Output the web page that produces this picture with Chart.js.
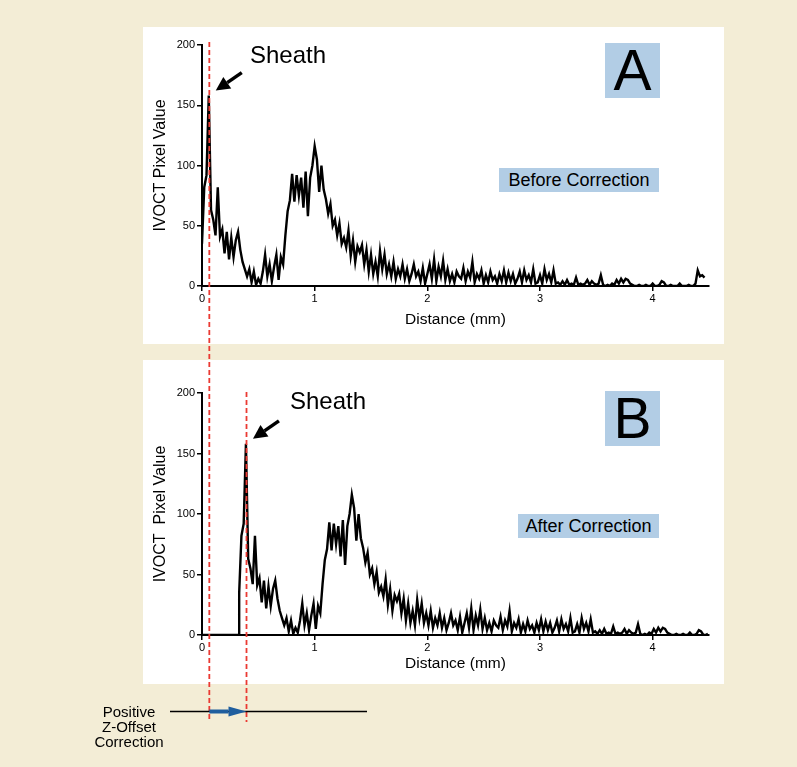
<!DOCTYPE html>
<html>
<head>
<meta charset="utf-8">
<script src="https://cdn.jsdelivr.net/npm/chart.js@4.4.0/dist/chart.umd.min.js"></script>
<style>
  html, body { margin: 0; padding: 0; }
  body {
    width: 797px; height: 767px; position: relative; overflow: hidden;
    background: #F3EDD6; font-family: "Liberation Sans", Arial, sans-serif; color: #000;
  }
  .panel { position: absolute; left: 143px; width: 581px; background: #fff; }
  #panelA { top: 27px; height: 317px; }
  #panelB { top: 360px; height: 324px; }
  .panel canvas { position: absolute; left: 0; top: 0; }
  #overlay { position: absolute; left: 0; top: 0; z-index: 5; pointer-events: none; }
  .lbl { position: absolute; z-index: 6; white-space: nowrap; }
  .box { background: #B2CDE5; text-align: center; }
  .letter { width: 55px; height: 55px; line-height: 55px; font-size: 57px; left: 605px; }
  .state { height: 24px; line-height: 24px; font-size: 18px; }
  .sheath { font-size: 24px; line-height: 28px; }
  #zlabel { left: 79px; top: 704px; width: 100px; text-align: center; font-size: 15px; line-height: 15px; }
</style>
</head>
<body>
<div class="panel" id="panelA"><canvas id="chartA" width="581" height="317"></canvas></div>
<div class="panel" id="panelB"><canvas id="chartB" width="581" height="324"></canvas></div>
<canvas id="overlay" width="797" height="767"></canvas>

<div class="lbl sheath" style="left:250px; top:41px;">Sheath</div>
<div class="lbl sheath" style="left:290px; top:387px;">Sheath</div>
<div class="lbl box letter" style="top:43px;">A</div>
<div class="lbl box letter" style="top:391px;">B</div>
<div class="lbl box state" style="left:499px; top:168px; width:160px;">Before Correction</div>
<div class="lbl box state" style="left:518px; top:514px; width:141px;">After Correction</div>
<div class="lbl" id="zlabel">Positive<br>Z-Offset<br>Correction</div>

<script>
// sampling grid (mm) and pixel values
const step = 0.02;
const pixelValues = [
  35, 82, 92, 158, 63, 55, 42, 82, 41, 47,
  27, 45, 22, 40, 24, 38, 45, 30, 20, 14,
  8, 14, 3, 12, 1, 6, 2, 12, 26, 8,
  18, 4, 16, 26, 5, 24, 18, 42, 62, 71,
  93, 70, 92, 75, 90, 65, 95, 58, 90, 100,
  116, 105, 78, 100, 80, 72, 60, 68, 50, 55,
  42, 52, 35, 40, 32, 46, 25, 38, 20, 33,
  28, 34, 18, 30, 12, 26, 10, 20, 8, 29,
  14, 26, 10, 18, 8, 20, 6, 14, 8, 18,
  6, 14, 4, 10, 18, 8, 12, 4, 15, 2,
  10, 18, 6, 22, 4, 16, 8, 21, 5, 14,
  4, 10, 3, 12, 8, 6, 15, 4, 12, 7,
  20, 3, 10, 6, 13, 2, 9, 3, 12, 5,
  8, 2, 10, 4, 13, 3, 11, 4, 10, 2,
  6, 12, 3, 13, 5, 9, 3, 14, 2, 3,
  9, 2, 14, 5, 10, 3, 13, 2, 3, 1,
  4, 1, 5, 1, 2, 1, 7, 1, 2, 1,
  2, 5, 1, 4, 2, 1, 2, 9, 1, 0,
  1, 0, 2, 1, 5, 2, 6, 3, 6, 5,
  2, 1, 0, 0, 1, 0, 0, 1, 0, 0,
  2, 0, 0, 1, 4, 3, 0, 0, 1, 0,
  0, 0, 2, 0, 0, 0, 1, 0, 0, 2,
  13, 8, 9, 7
];
const zOffset = 0.33;          // positive Z-offset correction (mm)
const sheathBefore = 0.065;    // sheath position before correction (mm)
const xTicks = [0, 1, 2, 3, 4];
const yTicks = [0, 50, 100, 150, 200];
const xMax = 4.5;
const yMax = 200;

const pointsA = pixelValues.map((v, i) => ({ x: +(i * step).toFixed(2), y: v }));
const pointsB = [{ x: 0, y: 0 }, { x: zOffset, y: 0 }]
  .concat(pointsA.map(p => ({ x: +(p.x + zOffset).toFixed(2), y: p.y })).filter(p => p.x <= xMax));

const FONT = '"Liberation Sans", Arial, sans-serif';

function makeChart(id, points, yTitle, padTop, xHeight, xTitlePad) {
  return new Chart(document.getElementById(id), {
    type: 'line',
    data: {
      datasets: [{
        data: points,
        borderColor: '#000',
        borderWidth: 2.4,
        pointRadius: 0,
        tension: 0,
        fill: false
      }]
    },
    options: {
      responsive: false,
      animation: false,
      layout: { padding: { top: padTop, right: 15, left: 0, bottom: 0 } },
      plugins: { legend: { display: false }, tooltip: { enabled: false } },
      scales: {
        x: {
          type: 'linear', min: 0, max: xMax,
          afterBuildTicks: s => { s.ticks = xTicks.map(v => ({ value: v })); },
          afterFit: s => { s.height = xHeight; },
          ticks: { color: '#000', font: { size: 11, family: FONT }, padding: 1, maxRotation: 0 },
          grid: { drawOnChartArea: false, drawTicks: true, tickLength: 5, color: '#000', lineWidth: 1.5 },
          border: { color: '#000', width: 2 },
          title: { display: true, text: 'Distance (mm)', color: '#000',
                   font: { size: 15.5, family: FONT }, padding: { bottom: xTitlePad } }
        },
        y: {
          min: 0, max: yMax,
          afterBuildTicks: s => { s.ticks = yTicks.map(v => ({ value: v })); },
          afterFit: s => { s.width = 59; },
          ticks: { color: '#000', font: { size: 11, family: FONT }, padding: 2 },
          grid: { drawOnChartArea: false, drawTicks: true, tickLength: 5, color: '#000', lineWidth: 1.5 },
          border: { color: '#000', width: 2 },
          title: { display: true, text: yTitle, color: '#000',
                   font: { size: 16, family: FONT }, padding: { top: 8 } }
        }
      }
    }
  });
}

const chartA = makeChart('chartA', pointsA, 'IVOCT Pixel Value', 18, 58, 15);
const chartB = makeChart('chartB', pointsB, 'IVOCT  Pixel Value', 33, 49, 11);

function arrow(ctx, x0, y0, x1, y1, width, head, headHalf, color) {
  const a = Math.atan2(y1 - y0, x1 - x0);
  const bx = x1 - head * Math.cos(a), by = y1 - head * Math.sin(a);
  ctx.strokeStyle = color; ctx.fillStyle = color; ctx.lineWidth = width;
  ctx.beginPath(); ctx.moveTo(x0, y0); ctx.lineTo(bx, by); ctx.stroke();
  ctx.beginPath();
  ctx.moveTo(x1, y1);
  ctx.lineTo(bx + headHalf * Math.sin(a), by - headHalf * Math.cos(a));
  ctx.lineTo(bx - headHalf * Math.sin(a), by + headHalf * Math.cos(a));
  ctx.closePath(); ctx.fill();
}

function drawOverlay() {
  const ctx = document.getElementById('overlay').getContext('2d');
  const offA = document.getElementById('panelA'), offB = document.getElementById('panelB');
  const ax = offA.offsetLeft, ay = offA.offsetTop, bx = offB.offsetLeft, by = offB.offsetTop;

  const x1 = ax + chartA.scales.x.getPixelForValue(sheathBefore);
  const x2 = bx + chartB.scales.x.getPixelForValue(sheathBefore + zOffset);
  const bottomY = 722;

  // red dashed reference lines
  ctx.save();
  ctx.strokeStyle = '#EA3A33';
  ctx.lineWidth = 1.8;
  ctx.setLineDash([5, 3]);
  ctx.beginPath();
  ctx.moveTo(x1, ay + chartA.scales.y.getPixelForValue(yMax) - 3);
  ctx.lineTo(x1, bottomY);
  ctx.moveTo(x2, by + chartB.scales.y.getPixelForValue(yMax) - 1);
  ctx.lineTo(x2, bottomY);
  ctx.stroke();
  ctx.restore();

  // sheath arrows pointing at the peak
  const peak = Math.max(...pixelValues);
  const pi = pixelValues.indexOf(peak);
  const pA = { x: ax + chartA.scales.x.getPixelForValue(pi * step), y: ay + chartA.scales.y.getPixelForValue(peak) };
  const pB = { x: bx + chartB.scales.x.getPixelForValue(pi * step + zOffset), y: by + chartB.scales.y.getPixelForValue(peak) };
  [pA, pB].forEach(p => arrow(ctx, p.x + 33, p.y - 23, p.x + 7, p.y - 5, 3.5, 14, 7, '#000'));

  // z-offset correction arrow
  const yz = 711.5;
  ctx.strokeStyle = '#000'; ctx.lineWidth = 1.5;
  ctx.beginPath(); ctx.moveTo(170, yz); ctx.lineTo(367, yz); ctx.stroke();
  arrow(ctx, x1, yz, x2, yz, 4, 18, 5, '#1F5E9E');
}

drawOverlay();
</script>
</body>
</html>
